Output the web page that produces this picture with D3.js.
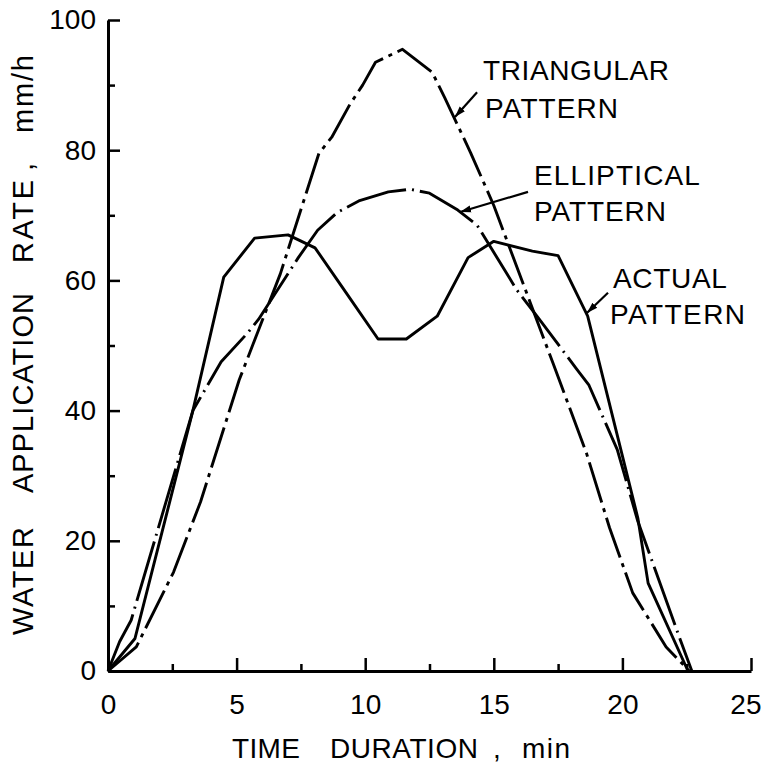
<!DOCTYPE html>
<html><head><meta charset="utf-8">
<script src="https://cdn.jsdelivr.net/npm/d3@7"></script>
<style>body{margin:0;background:#fff}</style>
</head><body>
<script>
// ---- data ----
const triT = [0, 1.1, 2.55, 3.6, 5.1, 6.7, 8.2, 8.7, 9.4, 9.9, 10.4, 11.45, 12.6, 13.1, 14.1, 15.0, 17.3, 18.6, 19.5, 20.4, 21.7, 22.6];
const triV = [0, 3.7, 15.2, 26, 44.7, 61, 79.5, 82, 87, 90, 93.5, 95.5, 92, 88, 79.6, 71.5, 47.3, 33.5, 22, 12, 3.7, 0];
const ellT = [0, 0.45, 0.9, 3.3, 4.4, 5.4, 5.85, 7.4, 8.15, 8.9, 9.75, 10.9, 11.75, 12.5, 13.6, 14.35, 15.9, 16.7, 18.2, 18.7, 19.8, 20.6, 22.25, 22.7];
const ellV = [0, 4.5, 7.8, 40, 47.5, 51.8, 54, 63.5, 67.7, 70.4, 72.2, 73.6, 74, 73.4, 70.8, 68.5, 58.5, 54.4, 46.5, 43.9, 34, 23, 4.8, 0];
const actT = [0, 1.05, 3.3, 4.5, 5.7, 7.0, 8.05, 9.1, 10.5, 11.6, 12.8, 14.0, 15.0, 16.5, 17.5, 18.65, 20.6, 21.0, 22.55];
const actV = [0, 5, 40, 60.5, 66.5, 67, 65, 59, 51, 51, 54.5, 63.5, 66, 64.5, 63.8, 54.5, 23.5, 13.5, 0];

const xTicks = [0, 5, 10, 15, 20, 25];
const xMinor = [2.5, 7.5, 12.5, 17.5, 22.5];
const yTicks = [0, 20, 40, 60, 80, 100];
const yMinor = [10, 30, 50, 70, 90];
const xTitleWords = ["TIME", "DURATION", ",", "min"];
const yTitleWords = ["WATER", "APPLICATION", "RATE", ",", "mm/h"];
const labelTexts = ["TRIANGULAR", "PATTERN", "ELLIPTICAL", "PATTERN", "ACTUAL", "PATTERN"];
const labelT = [14.58, 14.66, 16.56, 16.56, 19.63, 19.52];
const labelV = [90.8, 84.9, 74.7, 69.1, 58.8, 53.3];
const leaderFromT = [14.35, 16.33, 19.44];
const leaderFromV = [88.9, 73.6, 58.1];
const leaderToT = [13.49, 13.69, 18.62];
const leaderToV = [85.1, 70.5, 55.0];

// ---- layout (pixels) ----
const W = 762, H = 763;
const FONT = "'Liberation Sans', Arial, sans-serif";
const labelLen = [186, 133, 166, 132, 114, 135];
const xWordStart = [232, 330, 493, 522], xWordLen = [68, 148, 0, 48];
const yWordStart = [635, 493, 263, 171, 133], yWordLen = [108, 200, 83, 0, 78];

const svg = d3.select("body").append("svg").attr("width", W).attr("height", H);
svg.append("rect").attr("width", W).attr("height", H).attr("fill", "#fff");

const x = d3.scaleLinear().domain([0, 25]).range([108, 751]);
const y = d3.scaleLinear().domain([0, 100]).range([671, 20]);

function styleAxis(g) {
  g.select(".domain").attr("stroke", "#000").attr("stroke-width", 3);
  g.selectAll(".tick line").attr("stroke", "#000").attr("stroke-width", 2.5);
  g.selectAll(".tick text").attr("fill", "#000").attr("font-family", FONT).attr("font-size", 28);
}

const gx = svg.append("g").attr("transform", `translate(0,${y(0)})`)
  .call(d3.axisBottom(x).tickValues(xTicks).tickSizeInner(-13).tickSizeOuter(0).tickPadding(23).tickFormat(d3.format("d")));
styleAxis(gx);
gx.selectAll(".tick text").filter(d => d === 25).attr("text-anchor", "end").attr("x", 10);

const gxm = svg.append("g").attr("transform", `translate(0,${y(0)})`)
  .call(d3.axisBottom(x).tickValues(xMinor).tickSizeInner(-7).tickSizeOuter(0).tickFormat(""));
gxm.select(".domain").remove();
gxm.selectAll(".tick line").attr("stroke", "#000").attr("stroke-width", 2.5);

const gy = svg.append("g").attr("transform", `translate(${x(0)},0)`)
  .call(d3.axisLeft(y).tickValues(yTicks).tickSizeInner(-12).tickSizeOuter(0).tickPadding(12).tickFormat(d3.format("d")));
styleAxis(gy);

const gym = svg.append("g").attr("transform", `translate(${x(0)},0)`)
  .call(d3.axisLeft(y).tickValues(yMinor).tickSizeInner(-7).tickSizeOuter(0).tickFormat(""));
gym.select(".domain").remove();
gym.selectAll(".tick line").attr("stroke", "#000").attr("stroke-width", 2.5);

// curves
const line = d3.line().x(d => x(d[0])).y(d => y(d[1]));
const series = [
  {t: actT, v: actV, dash: null},
  {t: ellT, v: ellV, dash: "62,6,2,6"},
  {t: triT, v: triV, dash: "42,6,4,6"}
];
series.forEach(s => {
  svg.append("path")
    .datum(s.t.map((t, i) => [t, s.v[i]]))
    .attr("d", line)
    .attr("fill", "none")
    .attr("stroke", "#000")
    .attr("stroke-width", 2.9)
    .attr("stroke-linejoin", "round")
    .attr("stroke-dasharray", s.dash);
});

// arrow marker
svg.append("defs").append("marker")
  .attr("id", "arr").attr("markerUnits", "userSpaceOnUse")
  .attr("markerWidth", 13).attr("markerHeight", 9)
  .attr("refX", 11).attr("refY", 4.5).attr("orient", "auto")
  .append("path").attr("d", "M0,1L11,4.5L0,8Z").attr("fill", "#000");

leaderFromT.forEach((t, i) => {
  svg.append("line")
    .attr("x1", x(t)).attr("y1", y(leaderFromV[i]))
    .attr("x2", x(leaderToT[i])).attr("y2", y(leaderToV[i]))
    .attr("stroke", "#000").attr("stroke-width", 2.2)
    .attr("marker-end", "url(#arr)");
});

// annotation labels
labelTexts.forEach((txt, i) => {
  svg.append("text")
    .attr("x", x(labelT[i])).attr("y", y(labelV[i]))
    .attr("font-family", FONT).attr("font-size", 28)
    .attr("textLength", labelLen[i]).attr("lengthAdjust", "spacing")
    .text(txt);
});

// x title
xTitleWords.forEach((w, i) => {
  const t = svg.append("text").attr("x", xWordStart[i]).attr("y", 758)
    .attr("font-family", FONT).attr("font-size", 28).text(w);
  if (xWordLen[i]) t.attr("textLength", xWordLen[i]).attr("lengthAdjust", "spacing");
});

// y title (rotated, reading bottom to top)
yTitleWords.forEach((w, i) => {
  const t = svg.append("text")
    .attr("transform", `translate(33,${yWordStart[i]}) rotate(-90)`)
    .attr("x", 0).attr("y", 0)
    .attr("font-family", FONT).attr("font-size", 29).text(w);
  if (yWordLen[i]) t.attr("textLength", yWordLen[i]).attr("lengthAdjust", "spacing");
});
</script>
</body></html>
